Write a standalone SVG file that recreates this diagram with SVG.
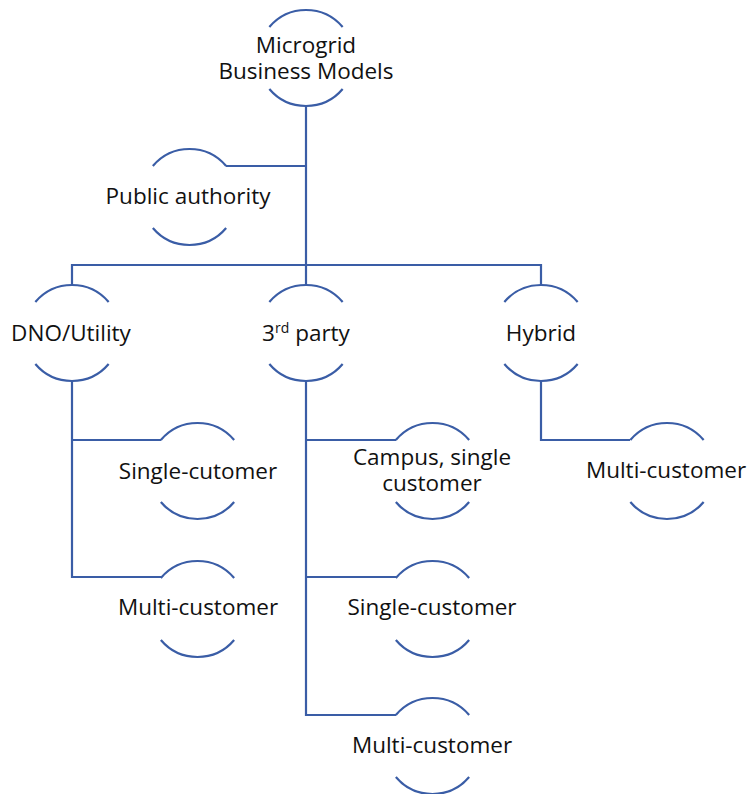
<svg xmlns="http://www.w3.org/2000/svg" xmlns:xlink="http://www.w3.org/1999/xlink" width="748" height="794" viewBox="0 0 748 794">
<style>
.ln{fill:none;stroke:#3A5DA6;stroke-width:2.2}
.t{font-family:"Open Sans","Noto Sans","DejaVu Sans",sans-serif;font-size:22.5px;fill:#111;text-anchor:middle}
</style>
<defs>
<path id="ring" class="ln" d="M-36.65 -31 A48 48 0 0 1 36.65 -31 M-36.65 31 A48 48 0 0 0 36.65 31"/>
</defs>
<rect width="748" height="794" fill="#fff"/>
<g id="connectors" class="ln">
<path d="M306 106 V285"/>
<path d="M226 166 H306"/>
<path d="M72 285 V265 H541 V285"/>
<path d="M72 381 V577 H161 M72 440 H161"/>
<path d="M306 381 V715 H396 M306 440 H396 M306 577 H396"/>
<path d="M541 381 V440 H630"/>
</g>
<g id="n-root"><use xlink:href="#ring" x="306" y="58"/><text class="t" x="306" y="53"><tspan x="306">Microgrid</tspan><tspan x="306" dy="25.5">Business Models</tspan></text></g>
<g id="n-public"><use xlink:href="#ring" x="189.5" y="197"/><text class="t" x="188" y="204">Public authority</text></g>
<g id="n-dno"><use xlink:href="#ring" x="72" y="333"/><text class="t" x="71" y="341">DNO/Utility</text></g>
<g id="n-3rd"><use xlink:href="#ring" x="306" y="333"/><text class="t" x="306" y="341">3<tspan font-size="14" dy="-8">rd</tspan><tspan dy="8"> party</tspan></text></g>
<g id="n-hybrid"><use xlink:href="#ring" x="541" y="333"/><text class="t" x="541" y="341">Hybrid</text></g>
<g id="n-dno-single"><use xlink:href="#ring" x="197.5" y="471"/><text class="t" x="198" y="479">Single-cutomer</text></g>
<g id="n-dno-multi"><use xlink:href="#ring" x="197.5" y="609"/><text class="t" x="198" y="615">Multi-customer</text></g>
<g id="n-3rd-campus"><use xlink:href="#ring" x="432.5" y="471"/><text class="t" x="432" y="465"><tspan x="432">Campus, single</tspan><tspan x="432" dy="25.5">customer</tspan></text></g>
<g id="n-3rd-single"><use xlink:href="#ring" x="432.5" y="609"/><text class="t" x="432" y="615">Single-customer</text></g>
<g id="n-3rd-multi"><use xlink:href="#ring" x="432.5" y="746"/><text class="t" x="432" y="753">Multi-customer</text></g>
<g id="n-hybrid-multi"><use xlink:href="#ring" x="667" y="471"/><text class="t" x="666" y="478">Multi-customer</text></g>
</svg>
